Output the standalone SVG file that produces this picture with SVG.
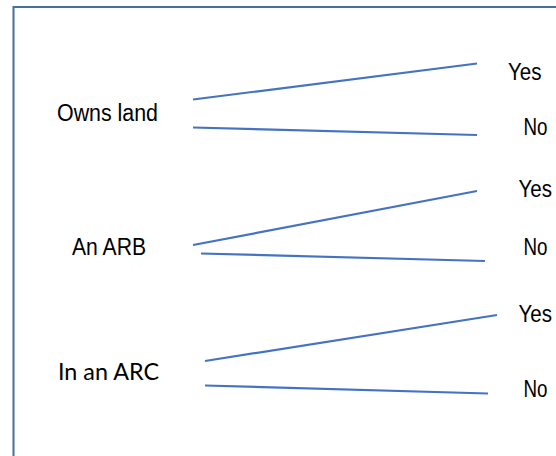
<svg xmlns="http://www.w3.org/2000/svg" width="556" height="456" viewBox="0 0 556 456">
  <style>
    .frame { fill: #ffffff; stroke: #41719C; stroke-width: 2; }
    .edge { stroke: #4472C4; stroke-width: 2.2; fill: none; }
    .lbl { font-family: "Liberation Sans", Arial, sans-serif; font-size: 23px; fill: #000000; }
    .yn { font-family: "Liberation Sans", Arial, sans-serif; font-size: 23px; fill: #000000; }
    .cal { font-family: Lato, "Open Sans", sans-serif; font-size: 24px; fill: #000000; }
  </style>
  <rect class="frame" x="13.5" y="7" width="600" height="500"/>
  <g id="connectors">
    <line class="edge" x1="193" y1="99.5" x2="477" y2="63.5"/>
    <line class="edge" x1="193" y1="127.5" x2="477" y2="135"/>
    <line class="edge" x1="193" y1="245" x2="477" y2="191"/>
    <line class="edge" x1="201" y1="253.5" x2="485" y2="261"/>
    <line class="edge" x1="205" y1="361" x2="497" y2="315"/>
    <line class="edge" x1="205" y1="385.5" x2="488" y2="393.5"/>
  </g>
  <g id="owns-land"><text class="lbl" x="57" y="121" textLength="101" lengthAdjust="spacingAndGlyphs">Owns land</text></g>
  <g id="an-arb"><text class="lbl" x="72" y="254.5" textLength="74" lengthAdjust="spacingAndGlyphs">An ARB</text></g>
  <g id="in-an-arc"><text class="cal" x="58" y="380" textLength="101" lengthAdjust="spacingAndGlyphs">In an ARC</text></g>
  <g id="yes-1"><text class="yn" x="508" y="80" textLength="33.5" lengthAdjust="spacingAndGlyphs">Yes</text></g>
  <g id="no-1"><text class="yn" x="523.5" y="135" textLength="24" lengthAdjust="spacingAndGlyphs">No</text></g>
  <g id="yes-2"><text class="yn" x="518.5" y="197" textLength="33.5" lengthAdjust="spacingAndGlyphs">Yes</text></g>
  <g id="no-2"><text class="yn" x="523.5" y="255" textLength="24" lengthAdjust="spacingAndGlyphs">No</text></g>
  <g id="yes-3"><text class="yn" x="518.5" y="321.5" textLength="33.5" lengthAdjust="spacingAndGlyphs">Yes</text></g>
  <g id="no-3"><text class="yn" x="523.5" y="397" textLength="24" lengthAdjust="spacingAndGlyphs">No</text></g>
</svg>
